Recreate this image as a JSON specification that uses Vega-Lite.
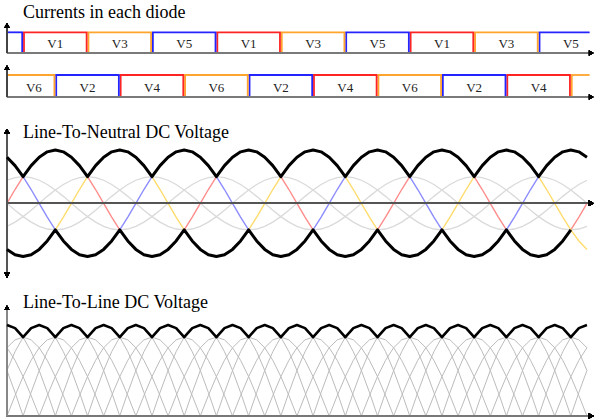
{
"$schema": "https://vega.github.io/schema/vega-lite/v6.json",
"padding": 0,
"background": "white",
"spacing": 0,
"bounds": "flush",
"config": {"view": {"stroke": null}, "title": {"font": "Liberation Serif", "fontSize": 18, "fontWeight": "normal", "color": "#000", "anchor": "start", "frame": "group", "baseline": "alphabetic", "dx": 23}},
"datasets": {
"boxes": [
{"r":1,"d":"","ph":"c","s":0,"e":30,"m":15},
{"r":1,"d":"V1","ph":"a","s":30,"e":150,"m":90},
{"r":1,"d":"V3","ph":"b","s":150,"e":270,"m":210},
{"r":1,"d":"V5","ph":"c","s":270,"e":390,"m":330},
{"r":1,"d":"V1","ph":"a","s":390,"e":510,"m":450},
{"r":1,"d":"V3","ph":"b","s":510,"e":630,"m":570},
{"r":1,"d":"V5","ph":"c","s":630,"e":750,"m":690},
{"r":1,"d":"V1","ph":"a","s":750,"e":870,"m":810},
{"r":1,"d":"V3","ph":"b","s":870,"e":990,"m":930},
{"r":1,"d":"V5","ph":"c","s":990,"e":1085,"m":1050},
{"r":2,"d":"V6","ph":"b","s":0,"e":90,"m":50},
{"r":2,"d":"V2","ph":"c","s":90,"e":210,"m":150},
{"r":2,"d":"V4","ph":"a","s":210,"e":330,"m":270},
{"r":2,"d":"V6","ph":"b","s":330,"e":450,"m":390},
{"r":2,"d":"V2","ph":"c","s":450,"e":570,"m":510},
{"r":2,"d":"V4","ph":"a","s":570,"e":690,"m":630},
{"r":2,"d":"V6","ph":"b","s":690,"e":810,"m":750},
{"r":2,"d":"V2","ph":"c","s":810,"e":930,"m":870},
{"r":2,"d":"V4","ph":"a","s":930,"e":1050,"m":990},
{"r":2,"d":"","ph":"b","s":1050,"e":1085,"m":1067}
],
"wave": [
{"t":0,"a":0,"b":-0.866,"c":0.866,"up":0.866,"lo":-0.866,"ga":0,"gb":0.433,"gc":-0.433,"L":1,"l1":0.5,"l2":1,"l3":0.5,"p1":0,"p2":0.75,"p3":0.75},
{"t":15,"a":0.259,"b":-0.966,"c":0.707,"up":0.707,"lo":-0.966,"ga":-0.13,"gb":0.483,"gc":-0.354,"L":0.966,"l1":0.707,"l2":0.966,"l3":0.259,"p1":0.224,"p2":0.837,"p3":0.612},
{"t":30,"a":0.5,"b":-1,"c":0.5,"up":0.5,"lo":-1,"ga":-0.25,"gb":0.5,"gc":-0.25,"L":0.866,"l1":0.866,"l2":0.866,"l3":0,"p1":0.433,"p2":0.866,"p3":0.433},
{"t":45,"a":0.707,"b":-0.966,"c":0.259,"up":0.707,"lo":-0.966,"ga":-0.354,"gb":0.483,"gc":-0.13,"L":0.966,"l1":0.966,"l2":0.707,"l3":0.259,"p1":0.612,"p2":0.837,"p3":0.224},
{"t":60,"a":0.866,"b":-0.866,"c":0,"up":0.866,"lo":-0.866,"ga":-0.433,"gb":0.433,"gc":0,"L":1,"l1":1,"l2":0.5,"l3":0.5,"p1":0.75,"p2":0.75,"p3":0},
{"t":75,"a":0.966,"b":-0.707,"c":-0.259,"up":0.966,"lo":-0.707,"ga":-0.483,"gb":0.354,"gc":0.13,"L":0.966,"l1":0.966,"l2":0.259,"l3":0.707,"p1":0.837,"p2":0.612,"p3":0.224},
{"t":90,"a":1,"b":-0.5,"c":-0.5,"up":1,"lo":-0.5,"ga":-0.5,"gb":0.25,"gc":0.25,"L":0.866,"l1":0.866,"l2":0,"l3":0.866,"p1":0.866,"p2":0.433,"p3":0.433},
{"t":105,"a":0.966,"b":-0.259,"c":-0.707,"up":0.966,"lo":-0.707,"ga":-0.483,"gb":0.13,"gc":0.354,"L":0.966,"l1":0.707,"l2":0.259,"l3":0.966,"p1":0.837,"p2":0.224,"p3":0.612},
{"t":120,"a":0.866,"b":0,"c":-0.866,"up":0.866,"lo":-0.866,"ga":-0.433,"gb":0,"gc":0.433,"L":1,"l1":0.5,"l2":0.5,"l3":1,"p1":0.75,"p2":0,"p3":0.75},
{"t":135,"a":0.707,"b":0.259,"c":-0.966,"up":0.707,"lo":-0.966,"ga":-0.354,"gb":-0.13,"gc":0.483,"L":0.966,"l1":0.259,"l2":0.707,"l3":0.966,"p1":0.612,"p2":0.224,"p3":0.837},
{"t":150,"a":0.5,"b":0.5,"c":-1,"up":0.5,"lo":-1,"ga":-0.25,"gb":-0.25,"gc":0.5,"L":0.866,"l1":0,"l2":0.866,"l3":0.866,"p1":0.433,"p2":0.433,"p3":0.866},
{"t":165,"a":0.259,"b":0.707,"c":-0.966,"up":0.707,"lo":-0.966,"ga":-0.13,"gb":-0.354,"gc":0.483,"L":0.966,"l1":0.259,"l2":0.966,"l3":0.707,"p1":0.224,"p2":0.612,"p3":0.837},
{"t":180,"a":0,"b":0.866,"c":-0.866,"up":0.866,"lo":-0.866,"ga":0,"gb":-0.433,"gc":0.433,"L":1,"l1":0.5,"l2":1,"l3":0.5,"p1":0,"p2":0.75,"p3":0.75},
{"t":195,"a":-0.259,"b":0.966,"c":-0.707,"up":0.966,"lo":-0.707,"ga":0.13,"gb":-0.483,"gc":0.354,"L":0.966,"l1":0.707,"l2":0.966,"l3":0.259,"p1":0.224,"p2":0.837,"p3":0.612},
{"t":210,"a":-0.5,"b":1,"c":-0.5,"up":1,"lo":-0.5,"ga":0.25,"gb":-0.5,"gc":0.25,"L":0.866,"l1":0.866,"l2":0.866,"l3":0,"p1":0.433,"p2":0.866,"p3":0.433},
{"t":225,"a":-0.707,"b":0.966,"c":-0.259,"up":0.966,"lo":-0.707,"ga":0.354,"gb":-0.483,"gc":0.13,"L":0.966,"l1":0.966,"l2":0.707,"l3":0.259,"p1":0.612,"p2":0.837,"p3":0.224},
{"t":240,"a":-0.866,"b":0.866,"c":0,"up":0.866,"lo":-0.866,"ga":0.433,"gb":-0.433,"gc":0,"L":1,"l1":1,"l2":0.5,"l3":0.5,"p1":0.75,"p2":0.75,"p3":0},
{"t":255,"a":-0.966,"b":0.707,"c":0.259,"up":0.707,"lo":-0.966,"ga":0.483,"gb":-0.354,"gc":-0.13,"L":0.966,"l1":0.966,"l2":0.259,"l3":0.707,"p1":0.837,"p2":0.612,"p3":0.224},
{"t":270,"a":-1,"b":0.5,"c":0.5,"up":0.5,"lo":-1,"ga":0.5,"gb":-0.25,"gc":-0.25,"L":0.866,"l1":0.866,"l2":0,"l3":0.866,"p1":0.866,"p2":0.433,"p3":0.433},
{"t":285,"a":-0.966,"b":0.259,"c":0.707,"up":0.707,"lo":-0.966,"ga":0.483,"gb":-0.13,"gc":-0.354,"L":0.966,"l1":0.707,"l2":0.259,"l3":0.966,"p1":0.837,"p2":0.224,"p3":0.612},
{"t":300,"a":-0.866,"b":0,"c":0.866,"up":0.866,"lo":-0.866,"ga":0.433,"gb":0,"gc":-0.433,"L":1,"l1":0.5,"l2":0.5,"l3":1,"p1":0.75,"p2":0,"p3":0.75},
{"t":315,"a":-0.707,"b":-0.259,"c":0.966,"up":0.966,"lo":-0.707,"ga":0.354,"gb":0.13,"gc":-0.483,"L":0.966,"l1":0.259,"l2":0.707,"l3":0.966,"p1":0.612,"p2":0.224,"p3":0.837},
{"t":330,"a":-0.5,"b":-0.5,"c":1,"up":1,"lo":-0.5,"ga":0.25,"gb":0.25,"gc":-0.5,"L":0.866,"l1":0,"l2":0.866,"l3":0.866,"p1":0.433,"p2":0.433,"p3":0.866},
{"t":345,"a":-0.259,"b":-0.707,"c":0.966,"up":0.966,"lo":-0.707,"ga":0.13,"gb":0.354,"gc":-0.483,"L":0.966,"l1":0.259,"l2":0.966,"l3":0.707,"p1":0.224,"p2":0.612,"p3":0.837},
{"t":360,"a":0,"b":-0.866,"c":0.866,"up":0.866,"lo":-0.866,"ga":0,"gb":0.433,"gc":-0.433,"L":1,"l1":0.5,"l2":1,"l3":0.5,"p1":0,"p2":0.75,"p3":0.75},
{"t":375,"a":0.259,"b":-0.966,"c":0.707,"up":0.707,"lo":-0.966,"ga":-0.13,"gb":0.483,"gc":-0.354,"L":0.966,"l1":0.707,"l2":0.966,"l3":0.259,"p1":0.224,"p2":0.837,"p3":0.612},
{"t":390,"a":0.5,"b":-1,"c":0.5,"up":0.5,"lo":-1,"ga":-0.25,"gb":0.5,"gc":-0.25,"L":0.866,"l1":0.866,"l2":0.866,"l3":0,"p1":0.433,"p2":0.866,"p3":0.433},
{"t":405,"a":0.707,"b":-0.966,"c":0.259,"up":0.707,"lo":-0.966,"ga":-0.354,"gb":0.483,"gc":-0.13,"L":0.966,"l1":0.966,"l2":0.707,"l3":0.259,"p1":0.612,"p2":0.837,"p3":0.224},
{"t":420,"a":0.866,"b":-0.866,"c":0,"up":0.866,"lo":-0.866,"ga":-0.433,"gb":0.433,"gc":0,"L":1,"l1":1,"l2":0.5,"l3":0.5,"p1":0.75,"p2":0.75,"p3":0},
{"t":435,"a":0.966,"b":-0.707,"c":-0.259,"up":0.966,"lo":-0.707,"ga":-0.483,"gb":0.354,"gc":0.13,"L":0.966,"l1":0.966,"l2":0.259,"l3":0.707,"p1":0.837,"p2":0.612,"p3":0.224},
{"t":450,"a":1,"b":-0.5,"c":-0.5,"up":1,"lo":-0.5,"ga":-0.5,"gb":0.25,"gc":0.25,"L":0.866,"l1":0.866,"l2":0,"l3":0.866,"p1":0.866,"p2":0.433,"p3":0.433},
{"t":465,"a":0.966,"b":-0.259,"c":-0.707,"up":0.966,"lo":-0.707,"ga":-0.483,"gb":0.13,"gc":0.354,"L":0.966,"l1":0.707,"l2":0.259,"l3":0.966,"p1":0.837,"p2":0.224,"p3":0.612},
{"t":480,"a":0.866,"b":0,"c":-0.866,"up":0.866,"lo":-0.866,"ga":-0.433,"gb":0,"gc":0.433,"L":1,"l1":0.5,"l2":0.5,"l3":1,"p1":0.75,"p2":0,"p3":0.75},
{"t":495,"a":0.707,"b":0.259,"c":-0.966,"up":0.707,"lo":-0.966,"ga":-0.354,"gb":-0.13,"gc":0.483,"L":0.966,"l1":0.259,"l2":0.707,"l3":0.966,"p1":0.612,"p2":0.224,"p3":0.837},
{"t":510,"a":0.5,"b":0.5,"c":-1,"up":0.5,"lo":-1,"ga":-0.25,"gb":-0.25,"gc":0.5,"L":0.866,"l1":0,"l2":0.866,"l3":0.866,"p1":0.433,"p2":0.433,"p3":0.866},
{"t":525,"a":0.259,"b":0.707,"c":-0.966,"up":0.707,"lo":-0.966,"ga":-0.13,"gb":-0.354,"gc":0.483,"L":0.966,"l1":0.259,"l2":0.966,"l3":0.707,"p1":0.224,"p2":0.612,"p3":0.837},
{"t":540,"a":0,"b":0.866,"c":-0.866,"up":0.866,"lo":-0.866,"ga":0,"gb":-0.433,"gc":0.433,"L":1,"l1":0.5,"l2":1,"l3":0.5,"p1":0,"p2":0.75,"p3":0.75},
{"t":555,"a":-0.259,"b":0.966,"c":-0.707,"up":0.966,"lo":-0.707,"ga":0.13,"gb":-0.483,"gc":0.354,"L":0.966,"l1":0.707,"l2":0.966,"l3":0.259,"p1":0.224,"p2":0.837,"p3":0.612},
{"t":570,"a":-0.5,"b":1,"c":-0.5,"up":1,"lo":-0.5,"ga":0.25,"gb":-0.5,"gc":0.25,"L":0.866,"l1":0.866,"l2":0.866,"l3":0,"p1":0.433,"p2":0.866,"p3":0.433},
{"t":585,"a":-0.707,"b":0.966,"c":-0.259,"up":0.966,"lo":-0.707,"ga":0.354,"gb":-0.483,"gc":0.13,"L":0.966,"l1":0.966,"l2":0.707,"l3":0.259,"p1":0.612,"p2":0.837,"p3":0.224},
{"t":600,"a":-0.866,"b":0.866,"c":0,"up":0.866,"lo":-0.866,"ga":0.433,"gb":-0.433,"gc":0,"L":1,"l1":1,"l2":0.5,"l3":0.5,"p1":0.75,"p2":0.75,"p3":0},
{"t":615,"a":-0.966,"b":0.707,"c":0.259,"up":0.707,"lo":-0.966,"ga":0.483,"gb":-0.354,"gc":-0.13,"L":0.966,"l1":0.966,"l2":0.259,"l3":0.707,"p1":0.837,"p2":0.612,"p3":0.224},
{"t":630,"a":-1,"b":0.5,"c":0.5,"up":0.5,"lo":-1,"ga":0.5,"gb":-0.25,"gc":-0.25,"L":0.866,"l1":0.866,"l2":0,"l3":0.866,"p1":0.866,"p2":0.433,"p3":0.433},
{"t":645,"a":-0.966,"b":0.259,"c":0.707,"up":0.707,"lo":-0.966,"ga":0.483,"gb":-0.13,"gc":-0.354,"L":0.966,"l1":0.707,"l2":0.259,"l3":0.966,"p1":0.837,"p2":0.224,"p3":0.612},
{"t":660,"a":-0.866,"b":0,"c":0.866,"up":0.866,"lo":-0.866,"ga":0.433,"gb":0,"gc":-0.433,"L":1,"l1":0.5,"l2":0.5,"l3":1,"p1":0.75,"p2":0,"p3":0.75},
{"t":675,"a":-0.707,"b":-0.259,"c":0.966,"up":0.966,"lo":-0.707,"ga":0.354,"gb":0.13,"gc":-0.483,"L":0.966,"l1":0.259,"l2":0.707,"l3":0.966,"p1":0.612,"p2":0.224,"p3":0.837},
{"t":690,"a":-0.5,"b":-0.5,"c":1,"up":1,"lo":-0.5,"ga":0.25,"gb":0.25,"gc":-0.5,"L":0.866,"l1":0,"l2":0.866,"l3":0.866,"p1":0.433,"p2":0.433,"p3":0.866},
{"t":705,"a":-0.259,"b":-0.707,"c":0.966,"up":0.966,"lo":-0.707,"ga":0.13,"gb":0.354,"gc":-0.483,"L":0.966,"l1":0.259,"l2":0.966,"l3":0.707,"p1":0.224,"p2":0.612,"p3":0.837},
{"t":720,"a":0,"b":-0.866,"c":0.866,"up":0.866,"lo":-0.866,"ga":0,"gb":0.433,"gc":-0.433,"L":1,"l1":0.5,"l2":1,"l3":0.5,"p1":0,"p2":0.75,"p3":0.75},
{"t":735,"a":0.259,"b":-0.966,"c":0.707,"up":0.707,"lo":-0.966,"ga":-0.13,"gb":0.483,"gc":-0.354,"L":0.966,"l1":0.707,"l2":0.966,"l3":0.259,"p1":0.224,"p2":0.837,"p3":0.612},
{"t":750,"a":0.5,"b":-1,"c":0.5,"up":0.5,"lo":-1,"ga":-0.25,"gb":0.5,"gc":-0.25,"L":0.866,"l1":0.866,"l2":0.866,"l3":0,"p1":0.433,"p2":0.866,"p3":0.433},
{"t":765,"a":0.707,"b":-0.966,"c":0.259,"up":0.707,"lo":-0.966,"ga":-0.354,"gb":0.483,"gc":-0.13,"L":0.966,"l1":0.966,"l2":0.707,"l3":0.259,"p1":0.612,"p2":0.837,"p3":0.224},
{"t":780,"a":0.866,"b":-0.866,"c":0,"up":0.866,"lo":-0.866,"ga":-0.433,"gb":0.433,"gc":0,"L":1,"l1":1,"l2":0.5,"l3":0.5,"p1":0.75,"p2":0.75,"p3":0},
{"t":795,"a":0.966,"b":-0.707,"c":-0.259,"up":0.966,"lo":-0.707,"ga":-0.483,"gb":0.354,"gc":0.13,"L":0.966,"l1":0.966,"l2":0.259,"l3":0.707,"p1":0.837,"p2":0.612,"p3":0.224},
{"t":810,"a":1,"b":-0.5,"c":-0.5,"up":1,"lo":-0.5,"ga":-0.5,"gb":0.25,"gc":0.25,"L":0.866,"l1":0.866,"l2":0,"l3":0.866,"p1":0.866,"p2":0.433,"p3":0.433},
{"t":825,"a":0.966,"b":-0.259,"c":-0.707,"up":0.966,"lo":-0.707,"ga":-0.483,"gb":0.13,"gc":0.354,"L":0.966,"l1":0.707,"l2":0.259,"l3":0.966,"p1":0.837,"p2":0.224,"p3":0.612},
{"t":840,"a":0.866,"b":0,"c":-0.866,"up":0.866,"lo":-0.866,"ga":-0.433,"gb":0,"gc":0.433,"L":1,"l1":0.5,"l2":0.5,"l3":1,"p1":0.75,"p2":0,"p3":0.75},
{"t":855,"a":0.707,"b":0.259,"c":-0.966,"up":0.707,"lo":-0.966,"ga":-0.354,"gb":-0.13,"gc":0.483,"L":0.966,"l1":0.259,"l2":0.707,"l3":0.966,"p1":0.612,"p2":0.224,"p3":0.837},
{"t":870,"a":0.5,"b":0.5,"c":-1,"up":0.5,"lo":-1,"ga":-0.25,"gb":-0.25,"gc":0.5,"L":0.866,"l1":0,"l2":0.866,"l3":0.866,"p1":0.433,"p2":0.433,"p3":0.866},
{"t":885,"a":0.259,"b":0.707,"c":-0.966,"up":0.707,"lo":-0.966,"ga":-0.13,"gb":-0.354,"gc":0.483,"L":0.966,"l1":0.259,"l2":0.966,"l3":0.707,"p1":0.224,"p2":0.612,"p3":0.837},
{"t":900,"a":0,"b":0.866,"c":-0.866,"up":0.866,"lo":-0.866,"ga":0,"gb":-0.433,"gc":0.433,"L":1,"l1":0.5,"l2":1,"l3":0.5,"p1":0,"p2":0.75,"p3":0.75},
{"t":915,"a":-0.259,"b":0.966,"c":-0.707,"up":0.966,"lo":-0.707,"ga":0.13,"gb":-0.483,"gc":0.354,"L":0.966,"l1":0.707,"l2":0.966,"l3":0.259,"p1":0.224,"p2":0.837,"p3":0.612},
{"t":930,"a":-0.5,"b":1,"c":-0.5,"up":1,"lo":-0.5,"ga":0.25,"gb":-0.5,"gc":0.25,"L":0.866,"l1":0.866,"l2":0.866,"l3":0,"p1":0.433,"p2":0.866,"p3":0.433},
{"t":945,"a":-0.707,"b":0.966,"c":-0.259,"up":0.966,"lo":-0.707,"ga":0.354,"gb":-0.483,"gc":0.13,"L":0.966,"l1":0.966,"l2":0.707,"l3":0.259,"p1":0.612,"p2":0.837,"p3":0.224},
{"t":960,"a":-0.866,"b":0.866,"c":0,"up":0.866,"lo":-0.866,"ga":0.433,"gb":-0.433,"gc":0,"L":1,"l1":1,"l2":0.5,"l3":0.5,"p1":0.75,"p2":0.75,"p3":0},
{"t":975,"a":-0.966,"b":0.707,"c":0.259,"up":0.707,"lo":-0.966,"ga":0.483,"gb":-0.354,"gc":-0.13,"L":0.966,"l1":0.966,"l2":0.259,"l3":0.707,"p1":0.837,"p2":0.612,"p3":0.224},
{"t":990,"a":-1,"b":0.5,"c":0.5,"up":0.5,"lo":-1,"ga":0.5,"gb":-0.25,"gc":-0.25,"L":0.866,"l1":0.866,"l2":0,"l3":0.866,"p1":0.866,"p2":0.433,"p3":0.433},
{"t":1005,"a":-0.966,"b":0.259,"c":0.707,"up":0.707,"lo":-0.966,"ga":0.483,"gb":-0.13,"gc":-0.354,"L":0.966,"l1":0.707,"l2":0.259,"l3":0.966,"p1":0.837,"p2":0.224,"p3":0.612},
{"t":1020,"a":-0.866,"b":0,"c":0.866,"up":0.866,"lo":-0.866,"ga":0.433,"gb":0,"gc":-0.433,"L":1,"l1":0.5,"l2":0.5,"l3":1,"p1":0.75,"p2":0,"p3":0.75},
{"t":1035,"a":-0.707,"b":-0.259,"c":0.966,"up":0.966,"lo":-0.707,"ga":0.354,"gb":0.13,"gc":-0.483,"L":0.966,"l1":0.259,"l2":0.707,"l3":0.966,"p1":0.612,"p2":0.224,"p3":0.837},
{"t":1050,"a":-0.5,"b":-0.5,"c":1,"up":1,"lo":-0.5,"ga":0.25,"gb":0.25,"gc":-0.5,"L":0.866,"l1":0,"l2":0.866,"l3":0.866,"p1":0.433,"p2":0.433,"p3":0.866},
{"t":1065,"a":-0.259,"b":-0.707,"c":0.966,"up":0.966,"ga":0.13,"gb":0.354,"gc":-0.483,"L":0.966,"l1":0.259,"l2":0.966,"l3":0.707,"p1":0.224,"p2":0.612,"p3":0.837},
{"t":1080,"a":0,"b":-0.866,"c":0.866,"up":0.866,"ga":0,"gb":0.433,"gc":-0.433,"L":1,"l1":0.5,"l2":1,"l3":0.5,"p1":0,"p2":0.75,"p3":0.75}
]
},
"vconcat": [
{
"width": 595, "height": 60,
"title": {"text": "Currents in each diode", "offset": -22},
"data": {"name": "boxes"},
"transform": [{"filter": "datum.r == 1"}],
"layer": [
{"mark": {"type": "rule", "strokeWidth": 1.8},
 "encoding": {
  "x": {"field": "s", "type": "quantitative", "scale": {"domain": [-13, 1095], "nice": false, "zero": false}, "axis": null},
  "x2": {"field": "e"},
  "y": {"datum": 1, "type": "quantitative", "scale": {"domain": [-0.338, 2.562], "nice": false, "zero": false}, "axis": null},
  "color": {"field": "ph", "type": "nominal", "scale": {"domain": ["a", "b", "c"], "range": ["#ff2424", "#ffa42c", "#2424ff"]}, "legend": null}}},
{"transform": [{"filter": "datum.s > 0"}],
 "mark": {"type": "rule", "strokeWidth": 1.8, "xOffset": 0.9},
 "encoding": {"x": {"field": "s", "type": "quantitative"}, "y": {"datum": 0, "type": "quantitative"}, "y2": {"datum": 1}, "color": {"field": "ph", "type": "nominal", "legend": null}}},
{"transform": [{"filter": "datum.e < 1080"}],
 "mark": {"type": "rule", "strokeWidth": 1.8, "xOffset": -0.9},
 "encoding": {"x": {"field": "e", "type": "quantitative"}, "y": {"datum": 0, "type": "quantitative"}, "y2": {"datum": 1}, "color": {"field": "ph", "type": "nominal", "legend": null}}},
{"mark": {"type": "text", "font": "Liberation Serif", "fontSize": 13, "color": "#222", "baseline": "middle", "align": "center"},
 "encoding": {"x": {"field": "m", "type": "quantitative"}, "y": {"datum": 0.43, "type": "quantitative"}, "text": {"field": "d"}}},
{"mark": {"type": "rule", "color": "#7a7a7a", "strokeWidth": 2},
 "encoding": {"x": {"datum": 0, "type": "quantitative"}, "x2": {"datum": 1085}, "y": {"datum": 0, "type": "quantitative"}}},
{"mark": {"type": "rule", "color": "#444", "strokeWidth": 1.5},
 "encoding": {"x": {"datum": 0, "type": "quantitative"}, "y": {"datum": 0, "type": "quantitative"}, "y2": {"datum": 1.3}}},
{"mark": {"type": "point", "shape": "triangle-up", "filled": true, "color": "#000", "size": 30, "opacity": 1},
 "encoding": {"x": {"datum": 0, "type": "quantitative"}, "y": {"datum": 1.33, "type": "quantitative"}}},
{"mark": {"type": "point", "shape": "triangle-right", "filled": true, "color": "#000", "size": 30, "opacity": 1},
 "encoding": {"x": {"datum": 1088, "type": "quantitative"}, "y": {"datum": 0, "type": "quantitative"}}}
]
},
{
"width": 595, "height": 44,
"data": {"name": "boxes"},
"transform": [{"filter": "datum.r == 2"}],
"layer": [
{"mark": {"type": "rule", "strokeWidth": 1.8},
 "encoding": {
  "x": {"field": "s", "type": "quantitative", "scale": {"domain": [-13, 1095], "nice": false, "zero": false}, "axis": null},
  "x2": {"field": "e"},
  "y": {"datum": 1, "type": "quantitative", "scale": {"domain": [-0.318, 1.682], "nice": false, "zero": false}, "axis": null},
  "color": {"field": "ph", "type": "nominal", "scale": {"domain": ["a", "b", "c"], "range": ["#ff2424", "#ffa42c", "#2424ff"]}, "legend": null}}},
{"transform": [{"filter": "datum.s > 0"}],
 "mark": {"type": "rule", "strokeWidth": 1.8, "xOffset": 0.9},
 "encoding": {"x": {"field": "s", "type": "quantitative"}, "y": {"datum": 0, "type": "quantitative"}, "y2": {"datum": 1}, "color": {"field": "ph", "type": "nominal", "legend": null}}},
{"transform": [{"filter": "datum.e < 1080"}],
 "mark": {"type": "rule", "strokeWidth": 1.8, "xOffset": -0.9},
 "encoding": {"x": {"field": "e", "type": "quantitative"}, "y": {"datum": 0, "type": "quantitative"}, "y2": {"datum": 1}, "color": {"field": "ph", "type": "nominal", "legend": null}}},
{"mark": {"type": "text", "font": "Liberation Serif", "fontSize": 13, "color": "#222", "baseline": "middle", "align": "center"},
 "encoding": {"x": {"field": "m", "type": "quantitative"}, "y": {"datum": 0.43, "type": "quantitative"}, "text": {"field": "d"}}},
{"mark": {"type": "rule", "color": "#7a7a7a", "strokeWidth": 2},
 "encoding": {"x": {"datum": 0, "type": "quantitative"}, "x2": {"datum": 1085}, "y": {"datum": 0, "type": "quantitative"}}},
{"mark": {"type": "rule", "color": "#444", "strokeWidth": 1.5},
 "encoding": {"x": {"datum": 0, "type": "quantitative"}, "y": {"datum": 0, "type": "quantitative"}, "y2": {"datum": 1.3}}},
{"mark": {"type": "point", "shape": "triangle-up", "filled": true, "color": "#000", "size": 30, "opacity": 1},
 "encoding": {"x": {"datum": 0, "type": "quantitative"}, "y": {"datum": 1.33, "type": "quantitative"}}},
{"mark": {"type": "point", "shape": "triangle-right", "filled": true, "color": "#000", "size": 30, "opacity": 1},
 "encoding": {"x": {"datum": 1088, "type": "quantitative"}, "y": {"datum": 0, "type": "quantitative"}}}
]
},
{
"width": 595, "height": 184,
"title": {"text": "Line-To-Neutral DC Voltage", "offset": -37.5},
"data": {"name": "wave"},
"layer": [
{"transform": [{"fold": ["ga", "gb", "gc"], "as": ["key", "val"]}],
 "mark": {"type": "line", "color": "#dadada", "strokeWidth": 1.3},
 "encoding": {
  "x": {"field": "t", "type": "quantitative", "scale": {"domain": [-13, 1095], "nice": false, "zero": false}, "axis": null},
  "y": {"field": "val", "type": "quantitative", "scale": {"domain": [-1.591, 1.865], "nice": false, "zero": false}, "axis": null},
  "detail": {"field": "key"}}},
{"mark": {"type": "line", "color": "#ff8c8c", "strokeWidth": 1.4},
 "encoding": {"x": {"field": "t", "type": "quantitative"}, "y": {"field": "a", "type": "quantitative"}}},
{"mark": {"type": "line", "color": "#ffdc6e", "strokeWidth": 1.4},
 "encoding": {"x": {"field": "t", "type": "quantitative"}, "y": {"field": "b", "type": "quantitative"}}},
{"mark": {"type": "line", "color": "#8c8cff", "strokeWidth": 1.4},
 "encoding": {"x": {"field": "t", "type": "quantitative"}, "y": {"field": "c", "type": "quantitative"}}},
{"mark": {"type": "rule", "color": "#555", "strokeWidth": 1.5},
 "encoding": {"x": {"datum": 0, "type": "quantitative"}, "x2": {"datum": 1085}, "y": {"datum": 0, "type": "quantitative"}}},
{"mark": {"type": "rule", "color": "#555", "strokeWidth": 1.5},
 "encoding": {"x": {"datum": 0, "type": "quantitative"}, "y": {"datum": -1.33, "type": "quantitative"}, "y2": {"datum": 1.33}}},
{"mark": {"type": "line", "color": "#000", "strokeWidth": 3, "strokeJoin": "round"},
 "encoding": {"x": {"field": "t", "type": "quantitative"}, "y": {"field": "up", "type": "quantitative"}}},
{"mark": {"type": "line", "color": "#000", "strokeWidth": 3, "strokeJoin": "round"},
 "encoding": {"x": {"field": "t", "type": "quantitative"}, "y": {"field": "lo", "type": "quantitative"}}},
{"mark": {"type": "point", "shape": "triangle-up", "filled": true, "color": "#000", "size": 30, "opacity": 1},
 "encoding": {"x": {"datum": 0, "type": "quantitative"}, "y": {"datum": 1.35, "type": "quantitative"}}},
{"mark": {"type": "point", "shape": "triangle-down", "filled": true, "color": "#000", "size": 30, "opacity": 1},
 "encoding": {"x": {"datum": 0, "type": "quantitative"}, "y": {"datum": -1.35, "type": "quantitative"}}},
{"mark": {"type": "point", "shape": "triangle-right", "filled": true, "color": "#000", "size": 30, "opacity": 1},
 "encoding": {"x": {"datum": 1088, "type": "quantitative"}, "y": {"datum": 0, "type": "quantitative"}}}
]
},
{
"width": 595, "height": 131,
"title": {"text": "Line-To-Line DC Voltage", "offset": -24},
"data": {"name": "wave"},
"layer": [
{"transform": [{"fold": ["l1", "l2", "l3", "p1", "p2", "p3"], "as": ["key", "val"]}],
 "mark": {"type": "line", "color": "#bcbcbc", "strokeWidth": 1},
 "encoding": {
  "x": {"field": "t", "type": "quantitative", "scale": {"domain": [-13, 1095], "nice": false, "zero": false}, "axis": null},
  "y": {"field": "val", "type": "quantitative", "scale": {"domain": [-0.033, 1.4066], "nice": false, "zero": false}, "axis": null},
  "detail": {"field": "key"}}},
{"mark": {"type": "rule", "color": "#777", "strokeWidth": 2},
 "encoding": {"x": {"datum": 0, "type": "quantitative"}, "x2": {"datum": 1085}, "y": {"datum": 0, "type": "quantitative"}}},
{"mark": {"type": "rule", "color": "#888", "strokeWidth": 1.8},
 "encoding": {"x": {"datum": 0, "type": "quantitative"}, "y": {"datum": 0, "type": "quantitative"}, "y2": {"datum": 1.17}}},
{"mark": {"type": "line", "color": "#000", "strokeWidth": 2.6, "strokeJoin": "round"},
 "encoding": {"x": {"field": "t", "type": "quantitative"}, "y": {"field": "L", "type": "quantitative"}}},
{"mark": {"type": "point", "shape": "triangle-up", "filled": true, "color": "#000", "size": 20, "opacity": 1},
 "encoding": {"x": {"datum": 0, "type": "quantitative"}, "y": {"datum": 1.19, "type": "quantitative"}}},
{"mark": {"type": "point", "shape": "triangle-right", "filled": true, "color": "#000", "size": 30, "opacity": 1},
 "encoding": {"x": {"datum": 1088, "type": "quantitative"}, "y": {"datum": 0, "type": "quantitative"}}}
]
}
]
}
